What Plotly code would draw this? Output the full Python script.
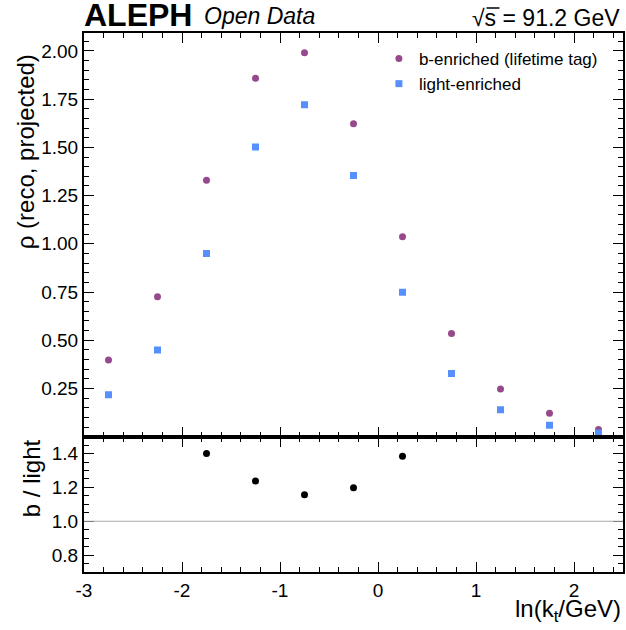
import numpy as np
import plotly.graph_objects as go
from plotly.subplots import make_subplots

# bin centres in ln(kt/GeV)
x_centers = [-2.75, -2.25, -1.75, -1.25, -0.75, -0.25, 0.25, 0.75, 1.25, 1.75, 2.25]
rho_b = [0.398, 0.726, 1.330, 1.859, 1.990, 1.623, 1.037, 0.535, 0.248, 0.121, 0.038]
rho_light = [0.217, 0.450, 0.950, 1.502, 1.721, 1.354, 0.749, 0.328, 0.140, 0.060, 0.019]

x_tickvals = [-3, -2, -1, 0, 1, 2]
x_ticktext = ['-3', '-2', '-1', '0', '1', '2']
main_tickvals = [0.25, 0.50, 0.75, 1.00, 1.25, 1.50, 1.75, 2.00]
ratio_tickvals = [0.8, 1.0, 1.2, 1.4]

ratio = np.array(rho_b) / np.array(rho_light)

FONT = 'Liberation Sans, Arial, sans-serif'
PURPLE = '#964a8b'
BLUE = '#5790fc'

W, H = 626, 630
L, R, T, B = 84, 1, 33, 58


def px(x):
    return (x - L) / (W - L - R)


def py(y):
    return (H - B - y) / (H - T - B)


fig = make_subplots(rows=2, cols=1, shared_xaxes=True, vertical_spacing=0,
                    row_heights=[0.749, 0.251])

fig.add_trace(go.Scatter(
    x=x_centers, y=rho_b, mode='markers', name='b-enriched (lifetime tag)',
    marker=dict(symbol='circle', size=7, color=PURPLE),
), row=1, col=1)
fig.add_trace(go.Scatter(
    x=x_centers, y=rho_light, mode='markers', name='light-enriched',
    marker=dict(symbol='square', size=7, color=BLUE),
), row=1, col=1)
fig.add_trace(go.Scatter(
    x=x_centers, y=ratio, mode='markers', showlegend=False,
    marker=dict(symbol='circle', size=7, color='black'),
), row=2, col=1)

fig.add_hline(y=1.0, line=dict(color='#aaaaaa', width=1.2), row=2, col=1)

axis_common = dict(
    showline=True, linewidth=2, linecolor='black', mirror='ticks',
    ticks='inside', ticklen=10, tickwidth=1, tickcolor='black',
    showgrid=False, zeroline=False,
    tickfont=dict(family=FONT, size=19, color='black'),
)

fig.update_xaxes(
    range=[-3, 2.5], tickvals=x_tickvals, ticktext=x_ticktext,
    minor=dict(tickmode='linear', tick0=0, dtick=0.2, ticks='inside', ticklen=5,
               tickcolor='black', tickwidth=1),
    **axis_common,
)
fig.update_xaxes(showticklabels=False, row=1, col=1)
fig.update_yaxes(
    range=[0.0, 2.093], tickvals=main_tickvals, tickformat='.2f',
    minor=dict(tickmode='linear', tick0=0, dtick=0.05, ticks='inside', ticklen=5,
               tickcolor='black', tickwidth=1),
    row=1, col=1, **axis_common,
)
fig.update_yaxes(
    range=[0.7, 1.5], tickvals=ratio_tickvals, tickformat='.1f',
    minor=dict(tickmode='linear', tick0=0, dtick=0.05, ticks='inside', ticklen=5,
               tickcolor='black', tickwidth=1),
    row=2, col=1, **axis_common,
)

annotations = [
    dict(text='<b>ALEPH</b>', x=px(82), y=py(15), xanchor='left', yanchor='middle',
         font=dict(family=FONT, size=32, color='black')),
    dict(text='<i>Open Data</i>', x=px(202), y=py(16), xanchor='left', yanchor='middle',
         font=dict(family=FONT, size=23, color='black')),
    dict(text='√s = 91.2 GeV', x=px(624), y=py(18), xanchor='right', yanchor='middle',
         font=dict(family=FONT, size=23, color='black')),
    dict(text='ρ (reco, projected)', x=px(25), y=py(152), xanchor='center', yanchor='middle',
         textangle=-90, font=dict(family=FONT, size=24, color='black')),
    dict(text='b / light', x=px(31), y=py(478), xanchor='center', yanchor='middle',
         textangle=-90, font=dict(family=FONT, size=24, color='black')),
    dict(text='ln(k<sub>t</sub>/GeV)', x=px(625), y=py(610), xanchor='right', yanchor='middle',
         font=dict(family=FONT, size=24, color='black')),
]
for a in annotations:
    fig.add_annotation(xref='paper', yref='paper', showarrow=False, **a)

# overline of the square root
fig.add_shape(type='line', xref='paper', yref='paper',
              x0=px(488), x1=px(501), y0=py(8), y1=py(8),
              line=dict(color='black', width=1.5))

fig.update_layout(
    width=W, height=H,
    margin=dict(l=L, r=R, t=T, b=B),
    plot_bgcolor='white', paper_bgcolor='white',
    font=dict(family=FONT, color='black'),
    legend=dict(x=px(380), y=py(41), xanchor='left', yanchor='top',
                font=dict(family=FONT, size=17, color='black'),
                bgcolor='rgba(0,0,0,0)', itemwidth=30, tracegroupgap=0),
)

# drop the default 8px page margin so the figure fills the window
fig.write_html('out.html', config={'displayModeBar': False},
               post_script="document.body.style.margin='0px';")
